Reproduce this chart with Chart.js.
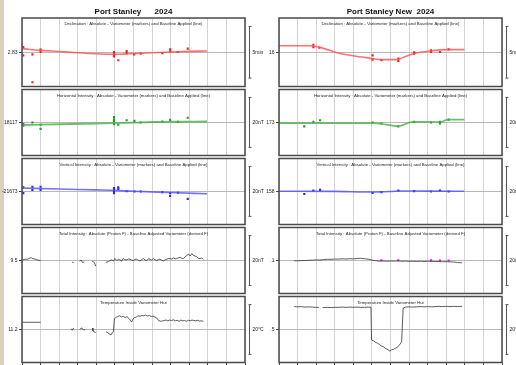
<!DOCTYPE html>
<html>
<head>
<meta charset="utf-8">
<script src="https://cdn.jsdelivr.net/npm/chart.js@4"></script>
<style>
body { margin: 0; width: 516px; height: 365px; overflow: hidden; background: #fff; position: relative; }
#strip { position: absolute; left: 0; top: 0; width: 4px; height: 365px; background: #d9d1ba; }
canvas { position: absolute; }
</style>
</head>
<body>
<div id="strip"></div>
<script>
// x is in months from the start of the year (0..12), y is the offset from the centre value of each panel
var panelTitles = ["Port Stanley      2024", "Port Stanley New  2024"];
var rowTitles = [
	"Declination : Absolute - Variometer (markers) and Baseline Applied (line)",
	"Horizontal Intensity : Absolute - Variometer (markers) and Baseline Applied (line)",
	"Vertical Intensity : Absolute - Variometer (markers) and Baseline Applied (line)",
	"Total Intensity : Absolute (Proton F) - Baseline Adjusted Variometer (derived F)",
	"Temperature Inside Variometer Hut"
];
var centreLabelsLeft = ["2.83", "18117", "-21673", "9.5", "11.2"];
var centreLabelsRight = ["16", "173", "158", ".1", ".5"];
var scaleUnits = ["5min", "20nT", "20nT", "20nT", "20\u00B0C"];
var scaleSizes = [5, 20, 20, 20, 20];

// ---- Port Stanley ----
var decLeftLine = [[0,0.35],[1,0.18],[2,0.08],[3,-0.05],[4,-0.15],[5,-0.2],[5.5,-0.18],[6,-0.12],[7,-0.05],[8,0.02],[9,0.08],[9.96,0.12]];
var decLeftMarks = [[0.07,0.5],[0.07,-0.3],[0.56,-0.2],[0.56,-2.9],[1.0,0.25],[1.0,0.02],[4.95,0.02],[4.95,-0.13],[4.95,-0.3],[4.95,-0.4],[5.18,-0.78],[5.63,0.12],[5.63,-0.08],[6.03,-0.2],[6.39,-0.13],[7.55,-0.08],[7.97,0.28],[7.97,0.09],[8.38,0.02],[8.92,0.35]];

var horLeftLine = [[0,-1.0],[2,-0.7],[4,-0.4],[5,-0.25],[6,-0.05],[7,0.2],[8,0.3],[9.96,0.4]];
var horLeftMarks = [[0.07,-0.65],[0.07,-1.27],[0.56,0],[1.0,-0.88],[1.0,-2.58],[4.95,2.19],[4.95,1.27],[4.95,0.65],[4.95,-0.65],[5.18,-0.88],[5.63,0.88],[6.05,0.65],[6.39,0],[7.55,0.38],[7.97,1.04],[8.39,0.27],[8.92,1.92]];

var verLeftLine = [[0,1.4],[2,1.0],[4,0.65],[5,0.45],[6,0.1],[8,-0.4],[9.96,-0.9]];
var verLeftMarks = [[0.07,1.65],[0.07,-0.65],[0.56,1.92],[0.56,0.65],[1.0,1.92],[1.0,0.65],[4.95,1.42],[4.95,0.65],[4.95,0.12],[4.95,-0.65],[5.18,1.65],[5.18,1.04],[5.63,0.12],[6.05,0],[6.39,0],[7.55,-0.27],[7.97,-0.65],[7.97,-1.81],[8.39,-0.5],[8.92,-2.96]];

var totLeftLine = [[0,0.3],[0.1,0.4],[0.2,0.5],[0.3,0.5],[0.4,0.9],[0.5,1.1],[0.6,0.7],[0.7,0.6],[0.8,0.3],[0.9,0.1],[1.0,0.0],[1.5,null],
	[2.7,-0.7],[2.78,-0.8],[2.9,null],
	[3.1,-0.4],[3.18,0.2],[3.25,-0.8],[3.35,-0.6],[3.5,null],
	[3.77,-0.2],[3.85,-0.6],[3.9,-0.9],[3.97,-2.3],[4.2,null],
	[4.52,-0.76],[4.65,-0.38],[4.74,0.0],[4.83,0.3],[4.92,-0.25],[5.0,0.77],[5.1,0.0],[5.19,0.52],[5.28,0.2],[5.36,-0.25],
	[5.45,0.77],[5.54,0.3],[5.63,0.3],[5.72,0.6],[5.81,0.52],[5.9,0.2],[5.99,0.0],[6.08,0.5],[6.17,0.52],[6.26,0.1],
	[6.35,-0.25],[6.44,0.4],[6.53,0.77],[6.62,0.2],[6.71,0.0],[6.8,0.6],[6.89,0.52],[6.98,0.2],[7.07,0.77],[7.16,0.3],
	[7.25,0.0],[7.34,0.4],[7.43,0.52],[7.52,0.1],[7.61,-0.25],[7.7,0.3],[7.79,0.52],[7.88,0.8],[7.97,0.77],[8.06,0.6],
	[8.15,1.03],[8.24,0.7],[8.33,0.77],[8.42,1.1],[8.51,1.28],[8.6,0.9],[8.69,0.77],[8.78,1.5],[8.87,2.05],[8.96,2.56],
	[9.05,1.8],[9.14,2.82],[9.22,2.05],[9.31,1.8],[9.4,1.54],[9.49,0.9],[9.58,0.77],[9.67,1.0],[9.76,0.52]];

var tempLeftLine = [[0,2.9],[1.0,2.9],[1.5,null],
	[2.65,0.3],[2.7,-0.3],[2.78,0.6],[2.9,null],
	[3.12,0.0],[3.18,0.6],[3.24,0.5],[3.3,-0.1],[3.4,-0.2],[3.55,null],
	[3.78,0.6],[3.82,-0.5],[3.88,-1.0],[3.97,-1.2],[4.2,null],
	[4.52,-0.91],[4.6,-1.2],[4.7,-1.8],[4.79,-2.19],[4.86,-1.2],[4.92,-0.9],[4.97,4.2],[5.05,4.9],[5.15,5.2],[5.25,5.5],
	[5.35,5.0],[5.45,5.3],[5.55,4.8],[5.65,5.2],[5.75,4.5],[5.85,3.5],[5.9,3.0],[5.97,4.2],[6.05,4.8],[6.15,5.0],
	[6.25,5.5],[6.35,5.3],[6.45,5.6],[6.55,5.5],[6.65,5.8],[6.75,5.4],[6.85,5.6],[6.95,5.2],[7.05,5.4],[7.15,5.0],
	[7.25,4.6],[7.35,3.6],[7.45,3.3],[7.55,3.4],[7.65,3.6],[7.75,3.8],[7.85,3.5],[7.95,3.8],[8.05,3.6],[8.15,3.9],
	[8.25,3.5],[8.35,3.7],[8.45,3.3],[8.55,3.8],[8.65,3.5],[8.75,3.6],[8.85,3.3],[8.95,3.7],[9.05,3.5],[9.15,3.8],
	[9.25,3.6],[9.35,3.5],[9.45,3.7],[9.55,3.4],[9.65,3.5],[9.76,3.3]];

// ---- Port Stanley New ----
var decRightLine = [[0,0.63],[1.81,0.63],[2.35,0.4],[3.24,-0.1],[4.14,-0.39],[5.04,-0.61],[5.49,-0.71],[6.3,-0.71],[6.84,-0.39],[7.38,-0.07],[8.1,0.12],[9.08,0.25],[9.97,0.25]];
var decRightMarks = [[1.85,0.73],[1.85,0.5],[2.17,0.44],[5.04,-0.3],[5.04,-0.71],[5.51,-0.78],[6.42,-0.62],[6.42,-0.85],[7.27,-0.01],[7.27,-0.13],[8.18,0.18],[8.18,0.02],[8.66,0.02],[9.13,0.28]];

var horRightLine = [[0,-0.25],[5.04,-0.25],[5.5,-0.5],[6.42,-1.5],[7.2,0.27],[8.6,0.2],[8.75,0.3],[9.08,1.15],[9.97,1.15]];
var horRightMarks = [[1.36,-1.54],[1.85,0.27],[2.21,0.92],[5.04,0],[5.51,-0.38],[6.42,-1.54],[7.27,0.27],[8.18,0],[8.66,0.27],[8.66,-0.38],[9.13,1.15]];

var verRightLine = [[0,0.1],[3,0.05],[5,-0.2],[6,0],[6.5,0.2],[8,0.15],[9.97,0.1]];
var verRightMarks = [[1.36,-1.0],[1.85,0.38],[2.21,0.65],[5.04,-0.62],[5.51,-0.23],[6.42,0.38],[7.27,0.15],[8.18,0],[8.66,0.38],[9.13,0]];

var totRightLine = [[0.82,-0.15],[1.0,-0.1],[1.2,-0.05],[1.4,0.0],[1.6,0.1],[1.8,0.15],[2.0,0.25],[2.2,0.2],[2.4,0.35],[2.6,0.5],
	[2.8,0.45],[3.0,0.6],[3.2,0.55],[3.4,0.7],[3.6,0.6],[3.8,0.75],[4.0,0.65],[4.2,0.8],[4.4,0.9],[4.6,0.7],
	[4.8,0.55],[5.0,0.2],[5.2,-0.1],[5.4,-0.25],[5.6,-0.2],[5.8,-0.3],[6.0,-0.2],[6.2,-0.25],[6.4,-0.15],[6.6,-0.3],
	[6.8,-0.25],[7.0,-0.35],[7.2,-0.3],[7.4,-0.4],[7.6,-0.3],[7.8,-0.4],[8.0,-0.3],[8.2,-0.35],[8.4,-0.45],[8.6,-0.4],
	[8.8,-0.5],[9.0,-0.45],[9.2,-0.55],[9.4,-0.6],[9.6,-0.8],[9.85,-0.95]];
var totRightMarks = [[5.51,0.1],[6.42,0.1],[8.18,0.05],[8.66,0.0],[9.13,0.0]];

var tempRightLine = [[0.82,9.2],[1.0,9.1],[1.2,9.2],[1.4,9.0],[1.6,9.1],[1.8,9.0],[2.0,8.9],[2.15,8.9],[2.25,null],
	[2.35,8.8],[2.6,8.9],[2.8,8.8],[3.0,8.9],[3.2,8.9],[3.4,9.0],[3.6,8.9],[3.8,9.0],[4.0,8.9],[4.2,9.0],[4.4,8.9],
	[4.6,8.9],[4.8,9.0],[4.95,8.9],[4.98,-4.2],[5.1,-4.6],[5.2,-5.2],[5.3,-5.5],[5.4,-6.0],[5.5,-6.6],[5.6,-6.8],
	[5.7,-7.5],[5.8,-7.9],[5.9,-8.2],[5.95,-8.7],[6.05,-8.2],[6.15,-8.0],[6.25,-7.6],[6.35,-7.2],[6.45,-6.5],[6.55,-5.5],
	[6.6,-4.9],[6.68,8.6],[6.8,9.0],[7.0,9.1],[7.2,9.0],[7.4,9.1],[7.6,9.2],[7.8,9.1],[8.0,9.2],[8.2,9.1],
	[8.4,9.2],[8.6,9.3],[8.8,9.2],[9.0,9.3],[9.2,9.2],[9.4,9.3],[9.6,9.2],[9.85,9.3]];

var FONT = '"Liberation Sans", Arial, sans-serif';
var rowTops = [18, 87, 156, 225, 294];
var rowH = 69;
var frameW = 223;
var padRight = 45;

var toPts = (arr) => arr.map(p => ({x: p[0], y: p[1]}));

var lineSet = (arr, color, width, smooth) => ({
	data: toPts(arr), borderColor: color, borderWidth: width, pointRadius: 0,
	cubicInterpolationMode: smooth ? "monotone" : "default", tension: 0, spanGaps: false
});
var markSet = (arr, color) => ({
	data: toPts(arr), showLine: false, pointStyle: "rect", pointRadius: 1.5,
	pointBackgroundColor: color, pointBorderWidth: 0
});

var decorPlugin = {
	id: "decor",
	afterDraw: function(chart, args, opts) {
		var ctx = chart.ctx, a = chart.chartArea, ys = chart.scales.y;
		ctx.save();
		// frame
		ctx.strokeStyle = "#4a4a4a";
		ctx.lineWidth = 1.5;
		ctx.strokeRect(a.left, a.top, a.right - a.left, a.bottom - a.top);
		// small heading inside the frame
		ctx.fillStyle = "#222";
		ctx.font = "4.3px " + FONT;
		ctx.textAlign = "center";
		ctx.textBaseline = "middle";
		ctx.fillText(opts.sub, (a.left + a.right) / 2, a.top + 6);
		// scale bar on the right
		var y1 = ys.getPixelForValue(opts.bar / 2), y2 = ys.getPixelForValue(-opts.bar / 2);
		var bx = Math.round(a.right + 4) + 0.5;
		ctx.strokeStyle = "#555";
		ctx.lineWidth = 1;
		ctx.beginPath();
		ctx.moveTo(bx, y1); ctx.lineTo(bx, y2);
		ctx.moveTo(bx - 1, y1); ctx.lineTo(bx + 2, y1);
		ctx.moveTo(bx - 1, y2); ctx.lineTo(bx + 2, y2);
		ctx.stroke();
		ctx.font = "5px " + FONT;
		ctx.textAlign = "left";
		ctx.fillText(opts.unit, bx + 3, ys.getPixelForValue(0));
		// panel title
		if (opts.title) {
			ctx.font = "bold 8px " + FONT;
			ctx.textAlign = "center";
			ctx.fillStyle = "#111";
			ctx.fillText(opts.title, (a.left + a.right) / 2, a.top - 6);
		}
		ctx.restore();
	}
};

function makePanel(frameLeft, row, label, title, datasets) {
	var padTop = row === 0 ? 18 : 2;
	var padBottom = 4;
	var w = 22 + frameW + padRight;
	var h = padTop + rowH + padBottom;
	var canvas = document.createElement("canvas");
	canvas.width = w;
	canvas.height = h;
	canvas.style.left = (frameLeft - 22) + "px";
	canvas.style.top = (rowTops[row] - padTop) + "px";
	canvas.style.width = w + "px";
	canvas.style.height = h + "px";
	document.body.appendChild(canvas);
	var half = scaleSizes[row] * 0.663;

	return new Chart(canvas.getContext("2d"), {
		type: "line",
		data: { datasets: datasets },
		plugins: [decorPlugin],
		options: {
			responsive: false,
			animation: false,
			devicePixelRatio: 1,
			layout: { padding: { top: padTop, bottom: padBottom, left: 0, right: padRight } },
			plugins: {
				legend: { display: false },
				tooltip: { enabled: false },
				decor: { sub: rowTitles[row], bar: scaleSizes[row], unit: scaleUnits[row], title: row === 0 ? title : null }
			},
			scales: {
				x: {
					type: "linear", min: 0, max: 12,
					afterFit: function(s) { s.height = 0; },
					ticks: { display: false, stepSize: 1 },
					grid: { color: "#d4d4d4", lineWidth: 1, drawTicks: row === 4, tickLength: 3, tickColor: "#444" },
					border: { display: false }
				},
				y: {
					type: "linear", min: -half, max: half,
					afterFit: function(s) { s.width = 22; },
					afterBuildTicks: function(s) { s.ticks = [{ value: 0 }]; },
					ticks: { font: { size: 5, family: FONT }, color: "#222", padding: 1.5, callback: function() { return label; } },
					grid: { color: "#b8b8b8", lineWidth: 1, tickLength: 3, tickColor: "#444" },
					border: { display: false }
				}
			}
		}
	});
}

var red = "#ff1a1a", redLine = "rgba(255,80,80,0.8)";
var green = "#1f9a1f", greenLine = "rgba(70,175,70,0.8)";
var blue = "#2424ff", blueLine = "rgba(80,80,255,0.8)";
var dark = "#333";

// left panel
makePanel(22, 0, centreLabelsLeft[0], panelTitles[0], [lineSet(decLeftLine, redLine, 1.6, true), markSet(decLeftMarks, red)]);
makePanel(22, 1, centreLabelsLeft[1], null, [lineSet(horLeftLine, greenLine, 1.8, true), markSet(horLeftMarks, green)]);
makePanel(22, 2, centreLabelsLeft[2], null, [lineSet(verLeftLine, blueLine, 1.6, true), markSet(verLeftMarks, blue)]);
makePanel(22, 3, centreLabelsLeft[3], null, [lineSet(totLeftLine, dark, 0.8, false)]);
makePanel(22, 4, centreLabelsLeft[4], null, [lineSet(tempLeftLine, dark, 0.8, false)]);

// right panel
makePanel(279, 0, centreLabelsRight[0], panelTitles[1], [lineSet(decRightLine, redLine, 1.6, true), markSet(decRightMarks, red)]);
makePanel(279, 1, centreLabelsRight[1], null, [lineSet(horRightLine, greenLine, 1.6, true), markSet(horRightMarks, green)]);
makePanel(279, 2, centreLabelsRight[2], null, [lineSet(verRightLine, blueLine, 1.6, true), markSet(verRightMarks, blue)]);
makePanel(279, 3, centreLabelsRight[3], null, [lineSet(totRightLine, dark, 0.8, false), markSet(totRightMarks, "#e020e0")]);
makePanel(279, 4, centreLabelsRight[4], null, [lineSet(tempRightLine, dark, 0.8, false)]);
</script>
</body>
</html>
